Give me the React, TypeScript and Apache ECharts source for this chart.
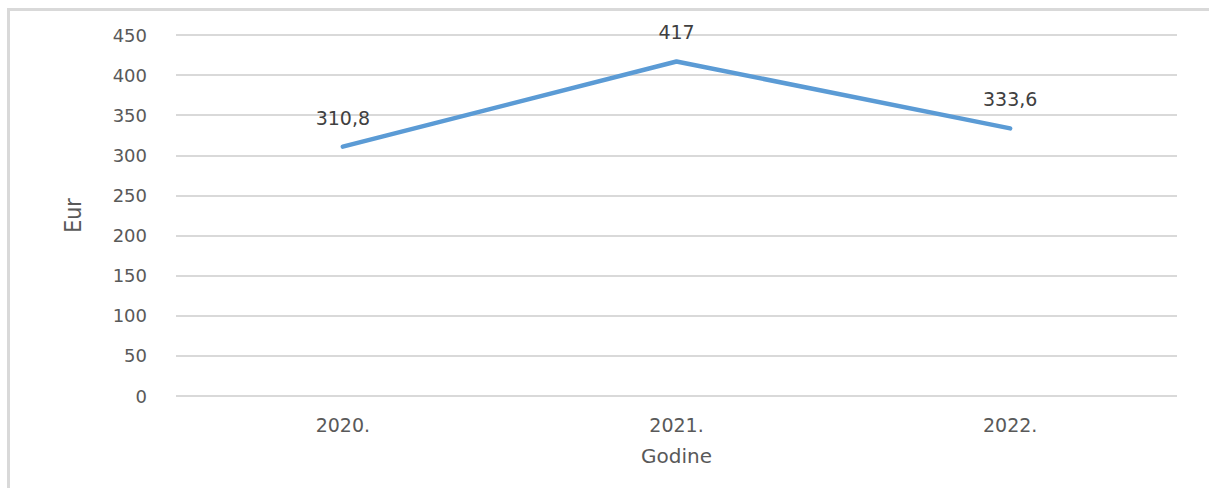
import React, { useEffect, useRef } from "react";
import * as echarts from "echarts";

const categories = ["2020.", "2021.", "2022."];
const values = [310.8, 417, 333.6];
const yTicks = { min: 0, max: 450, interval: 50 };
const yName = "Eur";
const xName = "Godine";

const fmt = (v: number) => String(v).replace(".", ",");

export default function App() {
  const ref = useRef<HTMLDivElement>(null);
  useEffect(() => {
    if (!ref.current) return;
    const chart = echarts.init(ref.current, null, { renderer: "svg" });
    const font = "'DejaVu Sans', 'Open Sans', sans-serif";
    chart.setOption({
      animation: false,
      backgroundColor: "#ffffff",
      graphic: [
        { type: "rect", shape: { x: 7, y: 8, width: 1210, height: 3 }, style: { fill: "#d9d9d9" }, silent: true },
        { type: "rect", shape: { x: 7, y: 8, width: 3, height: 490 }, style: { fill: "#d9d9d9" }, silent: true },
      ],
      grid: { left: 176, right: 32, top: 35, bottom: 92, containLabel: false },
      xAxis: {
        type: "category",
        data: categories,
        boundaryGap: true,
        name: xName,
        nameLocation: "middle",
        nameGap: 50,
        nameTextStyle: { color: "#595959", fontSize: 20, fontFamily: font },
        axisLine: { show: false },
        axisTick: { show: false },
        axisLabel: { color: "#595959", fontSize: 19, fontFamily: font, margin: 19 },
      },
      yAxis: {
        type: "value",
        min: yTicks.min,
        max: yTicks.max,
        interval: yTicks.interval,
        name: yName,
        nameLocation: "middle",
        nameGap: 92,
        nameRotate: 90,
        nameTextStyle: { color: "#595959", fontSize: 23, fontFamily: "'Liberation Sans Narrow', 'DejaVu Sans Condensed', sans-serif" },
        axisLine: { show: false },
        axisTick: { show: false },
        axisLabel: { color: "#595959", fontSize: 18, fontFamily: font, margin: 29 },
        splitLine: { lineStyle: { color: "#d9d9d9", width: 2 } },
      },
      series: [
        {
          type: "line",
          data: values,
          showSymbol: true,
          symbol: "circle",
          symbolSize: 1,
          itemStyle: { color: "rgba(0,0,0,0)" },
          lineStyle: { color: "#5b9bd5", width: 4.5, cap: "round", join: "round" },
          label: {
            show: true,
            position: "top",
            distance: 19,
            color: "#404040",
            fontSize: 19,
            fontFamily: font,
            formatter: (p: any) => fmt(p.value),
          },
        },
      ],
    });
    return () => chart.dispose();
  }, []);
  return <div ref={ref} style={{ position: "fixed", left: 0, top: 0, width: 1209, height: 488 }} />;
}
